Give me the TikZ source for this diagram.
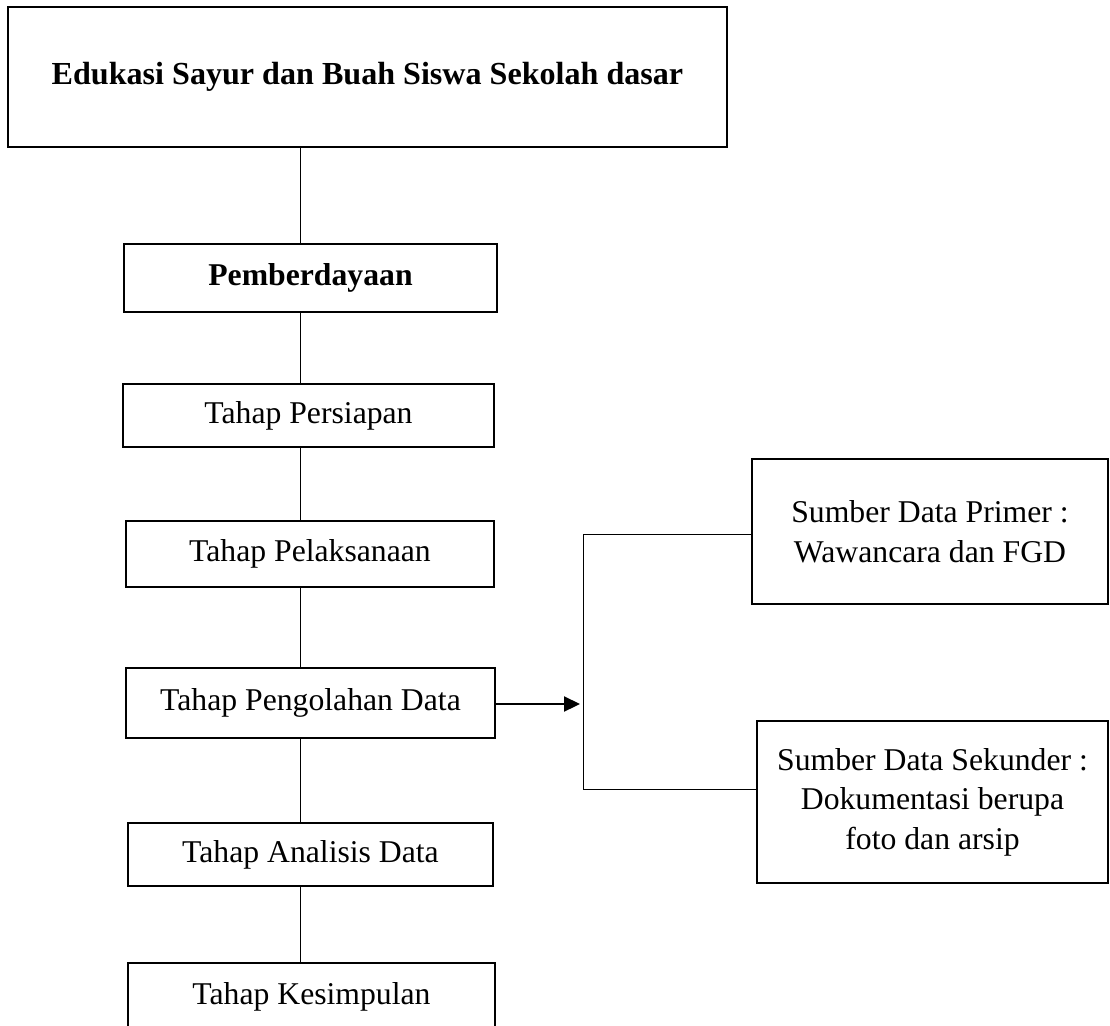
\documentclass[tikz,border=0pt]{standalone}
\usepackage{fontspec}
\setmainfont{Liberation Serif}
\usetikzlibrary{arrows.meta}
\begin{document}
\begin{tikzpicture}[x=1pt,y=-1pt,
  box/.style={draw,line width=2pt,rectangle,inner sep=0pt,outer sep=0pt,
    font=\fontsize{31.7}{39.5}\selectfont,align=center},
  link/.style={line width=0.9pt},
  arr/.style={line width=2.2pt,-{Triangle[length=16pt,width=15pt]}}]
\useasboundingbox (0,0) rectangle (1110,1025);
\clip (0,0) rectangle (1110,1025);

\node[box,minimum width=719pt,minimum height=140pt] (top) at (367.5,77)
  {\raisebox{6.5pt}{\fontsize{32.1}{39.5}\selectfont\bfseries Edukasi Sayur dan Buah Siswa Sekolah dasar}};
\node[box,minimum width=373pt,minimum height=68pt] (pem) at (310.5,278) {\bfseries Pemberdayaan};
\node[box,minimum width=371pt,minimum height=63pt] (per) at (308.5,415.5) {Tahap Persiapan};
\node[box,minimum width=368pt,minimum height=66pt] (pel) at (310,554) {Tahap Pelaksanaan};
\node[box,minimum width=369pt,minimum height=70pt] (peng) at (310.5,703) {Tahap Pengolahan Data};
\node[box,minimum width=365pt,minimum height=63pt] (ana) at (310.5,854.5) {Tahap Analisis Data};
\node[box,minimum width=367pt,minimum height=67pt] (kes) at (311.5,996.5) {Tahap Kesimpulan};

\node[box,minimum width=356pt,minimum height=145pt] (prim) at (930,531.5)
  {Sumber Data Primer :\\Wawancara dan FGD};
\node[box,minimum width=351pt,minimum height=162pt] (sek) at (932.5,802)
  {Sumber Data Sekunder :\\Dokumentasi berupa\\foto dan arsip};

\coordinate (sp) at (300,0);
\draw[link] (top.south -| sp) -- (pem.north -| sp);
\draw[link] (pem.south -| sp) -- (per.north -| sp);
\draw[link] (per.south -| sp) -- (pel.north -| sp);
\draw[link] (pel.south -| sp) -- (peng.north -| sp);
\draw[link] (peng.south -| sp) -- (ana.north -| sp);
\draw[link] (ana.south -| sp) -- (kes.north -| sp);

\coordinate (brk) at (583,704);
\coordinate (bt) at (583,534);
\coordinate (bb) at (583,789);
\draw[arr,shorten >=3pt] (peng.east |- brk) -- (brk);
\draw[link] (bt -| prim.west) -- (bt) -- (bb) -- (bb -| sek.west);
\end{tikzpicture}
\end{document}
